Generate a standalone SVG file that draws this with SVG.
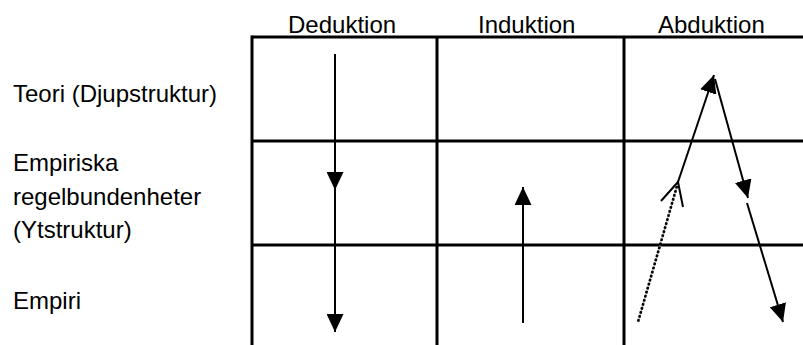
<svg xmlns="http://www.w3.org/2000/svg" width="803" height="345" viewBox="0 0 803 345">
  <style>
    .lbl { font-family: "Liberation Sans", Arial, sans-serif; font-size: 24px; fill: #000; }
    .grid { stroke: #000; stroke-width: 3; fill: none; }
    .arrow { stroke: #000; stroke-width: 2; fill: none; marker-end: url(#head); }
    .plain { stroke: #000; stroke-width: 2; fill: none; }
    .dots { stroke: #000; stroke-width: 2.6; fill: none; stroke-dasharray: 2.6 1.6; }
    .dots-base { stroke: #999; stroke-width: 1; fill: none; }
  </style>
  <defs>
    <marker id="head" viewBox="0 0 18 17" refX="18" refY="8.5" markerWidth="18" markerHeight="17" markerUnits="userSpaceOnUse" orient="auto">
      <path d="M0,0 L18,8.5 L0,17 z" fill="#000"/>
    </marker>
  </defs>
  <rect width="803" height="345" fill="#fff"/>

  <!-- table grid -->
  <g id="grid" class="grid">
    <line x1="252" y1="37" x2="803" y2="37"/>
    <line x1="252" y1="141" x2="803" y2="141"/>
    <line x1="252" y1="245" x2="803" y2="245"/>
    <line x1="252" y1="35.5" x2="252" y2="345"/>
    <line x1="437" y1="37" x2="437" y2="345"/>
    <line x1="624" y1="37" x2="624" y2="345"/>
  </g>

  <!-- column headings -->
  <g id="col-deduktion"><text class="lbl" x="288" y="33">Deduktion</text></g>
  <g id="col-induktion"><text class="lbl" x="478" y="33">Induktion</text></g>
  <g id="col-abduktion"><text class="lbl" x="658" y="33">Abduktion</text></g>

  <!-- row headings -->
  <g id="row-teori"><text class="lbl" x="13" y="102">Teori (Djupstruktur)</text></g>
  <g id="row-regelbundenheter">
    <text class="lbl" x="13" y="171">Empiriska</text>
    <text class="lbl" x="13" y="204.5">regelbundenheter</text>
    <text class="lbl" x="13" y="238">(Ytstruktur)</text>
  </g>
  <g id="row-empiri"><text class="lbl" x="13" y="309">Empiri</text></g>

  <!-- reasoning paths -->
  <g id="connectors">
    <!-- deduction: theory down to empirics -->
    <line class="arrow" x1="335" y1="54" x2="335" y2="190"/>
    <line class="arrow" x1="335" y1="190" x2="335" y2="332"/>
    <!-- induction: empirics up to regularities -->
    <line class="arrow" x1="523" y1="323" x2="523" y2="187"/>
    <!-- abduction -->
    <line class="dots-base" x1="677" y1="186" x2="638" y2="322"/>
    <line class="dots" x1="677" y1="186" x2="638" y2="322"/>
    <polyline class="plain" points="661,201 678,182 683,207"/>
    <line class="arrow" x1="678" y1="182" x2="714" y2="75"/>
    <line class="arrow" x1="715" y1="79" x2="748" y2="198"/>
    <line class="arrow" x1="747" y1="203" x2="783" y2="322"/>
  </g>
</svg>
